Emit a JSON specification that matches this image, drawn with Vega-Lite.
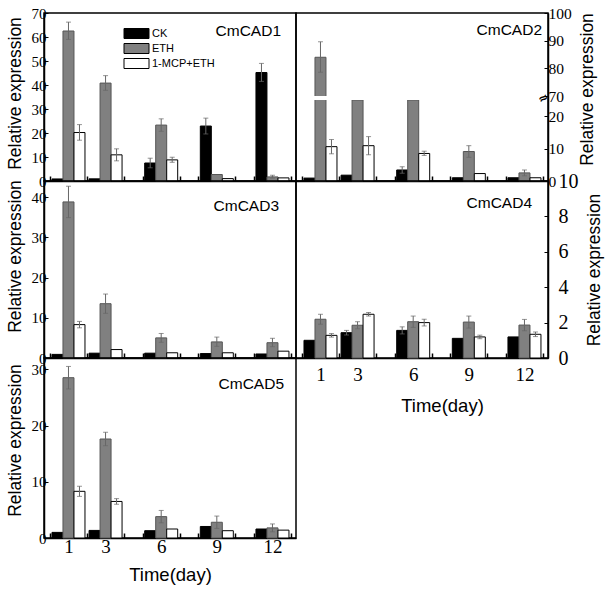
{
"$schema": "https://vega.github.io/schema/vega-lite/v6.json",
"background": "white",
"padding": {"left": 5, "top": 5, "right": 4, "bottom": 4},
"datasets": {"expr": [
{"gene":"CmCAD1","day":1,"trt":"CK","value":0.85},
{"gene":"CmCAD1","day":1,"trt":"ETH","value":62.5,"lo":59.0,"hi":66.2},
{"gene":"CmCAD1","day":1,"trt":"1-MCP+ETH","value":20.2,"lo":17.0,"hi":23.5},
{"gene":"CmCAD1","day":3,"trt":"CK","value":0.9},
{"gene":"CmCAD1","day":3,"trt":"ETH","value":40.8,"lo":37.8,"hi":43.9},
{"gene":"CmCAD1","day":3,"trt":"1-MCP+ETH","value":10.9,"lo":8.4,"hi":13.4},
{"gene":"CmCAD1","day":6,"trt":"CK","value":7.5,"lo":5.5,"hi":9.5},
{"gene":"CmCAD1","day":6,"trt":"ETH","value":23.3,"lo":20.7,"hi":25.9},
{"gene":"CmCAD1","day":6,"trt":"1-MCP+ETH","value":8.8,"lo":7.8,"hi":9.9},
{"gene":"CmCAD1","day":9,"trt":"CK","value":22.9,"lo":19.6,"hi":26.2},
{"gene":"CmCAD1","day":9,"trt":"ETH","value":2.7},
{"gene":"CmCAD1","day":9,"trt":"1-MCP+ETH","value":1.0},
{"gene":"CmCAD1","day":12,"trt":"CK","value":45.2,"lo":41.5,"hi":49.0},
{"gene":"CmCAD1","day":12,"trt":"ETH","value":1.7,"lo":1.2,"hi":2.4},
{"gene":"CmCAD1","day":12,"trt":"1-MCP+ETH","value":1.3},
{"gene":"CmCAD2","day":1,"trt":"CK","value":0.9},
{"gene":"CmCAD2","day":1,"trt":"ETH","value":84.0,"lo":78.6,"hi":89.6},
{"gene":"CmCAD2","day":1,"trt":"1-MCP+ETH","value":10.6,"lo":8.4,"hi":12.8},
{"gene":"CmCAD2","day":3,"trt":"CK","value":1.8},
{"gene":"CmCAD2","day":3,"trt":"ETH","value":25.0},
{"gene":"CmCAD2","day":3,"trt":"1-MCP+ETH","value":10.9,"lo":8.1,"hi":13.7},
{"gene":"CmCAD2","day":6,"trt":"CK","value":3.4,"lo":2.4,"hi":4.4},
{"gene":"CmCAD2","day":6,"trt":"ETH","value":25.0},
{"gene":"CmCAD2","day":6,"trt":"1-MCP+ETH","value":8.5,"lo":7.9,"hi":9.2},
{"gene":"CmCAD2","day":9,"trt":"CK","value":1.0},
{"gene":"CmCAD2","day":9,"trt":"ETH","value":9.1,"lo":7.3,"hi":10.9},
{"gene":"CmCAD2","day":9,"trt":"1-MCP+ETH","value":2.3},
{"gene":"CmCAD2","day":12,"trt":"CK","value":1.0},
{"gene":"CmCAD2","day":12,"trt":"ETH","value":2.5,"lo":1.6,"hi":3.4},
{"gene":"CmCAD2","day":12,"trt":"1-MCP+ETH","value":1.0},
{"gene":"CmCAD3","day":1,"trt":"CK","value":0.9},
{"gene":"CmCAD3","day":1,"trt":"ETH","value":38.8,"lo":34.9,"hi":42.7},
{"gene":"CmCAD3","day":1,"trt":"1-MCP+ETH","value":8.3,"lo":7.5,"hi":9.1},
{"gene":"CmCAD3","day":3,"trt":"CK","value":1.2},
{"gene":"CmCAD3","day":3,"trt":"ETH","value":13.5,"lo":11.1,"hi":15.9},
{"gene":"CmCAD3","day":3,"trt":"1-MCP+ETH","value":2.1},
{"gene":"CmCAD3","day":6,"trt":"CK","value":1.2},
{"gene":"CmCAD3","day":6,"trt":"ETH","value":5.0,"lo":3.9,"hi":6.1},
{"gene":"CmCAD3","day":6,"trt":"1-MCP+ETH","value":1.3},
{"gene":"CmCAD3","day":9,"trt":"CK","value":1.1},
{"gene":"CmCAD3","day":9,"trt":"ETH","value":4.0,"lo":2.9,"hi":5.2},
{"gene":"CmCAD3","day":9,"trt":"1-MCP+ETH","value":1.3},
{"gene":"CmCAD3","day":12,"trt":"CK","value":1.0},
{"gene":"CmCAD3","day":12,"trt":"ETH","value":3.8,"lo":2.8,"hi":4.9},
{"gene":"CmCAD3","day":12,"trt":"1-MCP+ETH","value":1.7},
{"gene":"CmCAD4","day":1,"trt":"CK","value":1.0},
{"gene":"CmCAD4","day":1,"trt":"ETH","value":2.19,"lo":1.91,"hi":2.47},
{"gene":"CmCAD4","day":1,"trt":"1-MCP+ETH","value":1.28,"lo":1.18,"hi":1.38},
{"gene":"CmCAD4","day":3,"trt":"CK","value":1.43,"lo":1.3,"hi":1.56},
{"gene":"CmCAD4","day":3,"trt":"ETH","value":1.85,"lo":1.65,"hi":2.05},
{"gene":"CmCAD4","day":3,"trt":"1-MCP+ETH","value":2.47,"lo":2.37,"hi":2.57},
{"gene":"CmCAD4","day":6,"trt":"CK","value":1.56,"lo":1.36,"hi":1.76},
{"gene":"CmCAD4","day":6,"trt":"ETH","value":2.05,"lo":1.73,"hi":2.37},
{"gene":"CmCAD4","day":6,"trt":"1-MCP+ETH","value":2.0,"lo":1.81,"hi":2.19},
{"gene":"CmCAD4","day":9,"trt":"CK","value":1.11},
{"gene":"CmCAD4","day":9,"trt":"ETH","value":2.03,"lo":1.69,"hi":2.37},
{"gene":"CmCAD4","day":9,"trt":"1-MCP+ETH","value":1.19,"lo":1.09,"hi":1.29},
{"gene":"CmCAD4","day":12,"trt":"CK","value":1.19},
{"gene":"CmCAD4","day":12,"trt":"ETH","value":1.86,"lo":1.54,"hi":2.18},
{"gene":"CmCAD4","day":12,"trt":"1-MCP+ETH","value":1.34,"lo":1.21,"hi":1.47},
{"gene":"CmCAD5","day":1,"trt":"CK","value":1.0},
{"gene":"CmCAD5","day":1,"trt":"ETH","value":28.5,"lo":26.5,"hi":30.5},
{"gene":"CmCAD5","day":1,"trt":"1-MCP+ETH","value":8.3,"lo":7.4,"hi":9.2},
{"gene":"CmCAD5","day":3,"trt":"CK","value":1.35},
{"gene":"CmCAD5","day":3,"trt":"ETH","value":17.6,"lo":16.4,"hi":18.8},
{"gene":"CmCAD5","day":3,"trt":"1-MCP+ETH","value":6.5,"lo":6.0,"hi":7.0},
{"gene":"CmCAD5","day":6,"trt":"CK","value":1.3},
{"gene":"CmCAD5","day":6,"trt":"ETH","value":3.8,"lo":2.7,"hi":4.9},
{"gene":"CmCAD5","day":6,"trt":"1-MCP+ETH","value":1.6},
{"gene":"CmCAD5","day":9,"trt":"CK","value":2.05},
{"gene":"CmCAD5","day":9,"trt":"ETH","value":2.8,"lo":1.7,"hi":3.9},
{"gene":"CmCAD5","day":9,"trt":"1-MCP+ETH","value":1.3},
{"gene":"CmCAD5","day":12,"trt":"CK","value":1.6},
{"gene":"CmCAD5","day":12,"trt":"ETH","value":1.8,"lo":1.1,"hi":2.5},
{"gene":"CmCAD5","day":12,"trt":"1-MCP+ETH","value":1.4}
]},
"columns": 2,
"spacing": 0,
"bounds": "flush",
"concat": [
{
 "width": 252, "height": 168,
 "title": {"text":"CmCAD1","anchor":"end","frame":"group","orient":"top","offset":-45,"dx":-15,"baseline":"alphabetic","font":"Liberation Sans","fontSize":15.5,"fontWeight":"normal","color":"black"},
 "data": {"name":"expr"},
 "transform":[{"filter":"datum.gene === 'CmCAD1'"}],
 "encoding": {
  "x": {"field":"day","type":"quantitative","scale":{"domain":[-0.05,13],"nice":false,"zero":false},"axis":{"values":[0,1,2,3,4,5,6,7,8,9,10,11,12,13],"labels":false,"title":null,"tickSize":-5,"tickWidth":1.5}},
  "y": {"field":"value","type":"quantitative","scale":{"domain":[0,70],"nice":false},"axis":{"values":[0,10,20,30,40,50,60,70],"title":"Relative expression","tickSize":-4,"labelPadding":2,"titlePadding":7,"titleY":80}}
 },
 "layer": [
  {"transform":[{"filter":"datum.trt === 'CK'"}],"mark":{"type":"bar","width":11,"xOffset":-11,"stroke":"black","strokeWidth":1},"encoding":{"fill":{"field":"trt","type":"nominal","scale":{"domain":["CK","ETH","1-MCP+ETH"],"range":["#000000","#808080","#ffffff"]},"legend":{"orient":"none","legendX":87,"legendY":15,"title":null,"symbolType":"M-2.5,-1H2.5V1H-2.5Z","symbolSize":100,"symbolStrokeColor":"black","symbolStrokeWidth":1,"labelFont":"Liberation Sans","labelFontSize":11,"labelColor":"black","rowPadding":0,"gridAlign":"none","labelOffset":10,"padding":0}}}},
  {"transform":[{"filter":"datum.trt === 'ETH'"}],"mark":{"type":"bar","width":11,"xOffset":0,"stroke":"#555555","strokeWidth":1},"encoding":{"fill":{"field":"trt","type":"nominal","scale":{"domain":["CK","ETH","1-MCP+ETH"],"range":["#000000","#808080","#ffffff"]},"legend":{"orient":"none","legendX":87,"legendY":15,"title":null,"symbolType":"M-2.5,-1H2.5V1H-2.5Z","symbolSize":100,"symbolStrokeColor":"black","symbolStrokeWidth":1,"labelFont":"Liberation Sans","labelFontSize":11,"labelColor":"black","rowPadding":0,"gridAlign":"none","labelOffset":10,"padding":0}}}},
  {"transform":[{"filter":"datum.trt === '1-MCP+ETH'"}],"mark":{"type":"bar","width":11,"xOffset":11,"stroke":"black","strokeWidth":1},"encoding":{"fill":{"field":"trt","type":"nominal","scale":{"domain":["CK","ETH","1-MCP+ETH"],"range":["#000000","#808080","#ffffff"]},"legend":{"orient":"none","legendX":87,"legendY":15,"title":null,"symbolType":"M-2.5,-1H2.5V1H-2.5Z","symbolSize":100,"symbolStrokeColor":"black","symbolStrokeWidth":1,"labelFont":"Liberation Sans","labelFontSize":11,"labelColor":"black","rowPadding":0,"gridAlign":"none","labelOffset":10,"padding":0}}}},
  {"transform":[{"filter":"datum.trt === 'CK' && isValid(datum.lo)"}],"mark":{"type":"rule","xOffset":-11,"color":"#666666","strokeWidth":1},"encoding":{"y":{"field":"lo","type":"quantitative"},"y2":{"field":"hi"}}},
  {"transform":[{"filter":"datum.trt === 'ETH' && isValid(datum.lo)"}],"mark":{"type":"rule","xOffset":0,"color":"#666666","strokeWidth":1},"encoding":{"y":{"field":"lo","type":"quantitative"},"y2":{"field":"hi"}}},
  {"transform":[{"filter":"datum.trt === '1-MCP+ETH' && isValid(datum.lo)"}],"mark":{"type":"rule","xOffset":11,"color":"#666666","strokeWidth":1},"encoding":{"y":{"field":"lo","type":"quantitative"},"y2":{"field":"hi"}}},
  {"transform":[{"filter":"datum.trt === 'CK' && isValid(datum.lo)"}],"mark":{"type":"tick","orient":"horizontal","xOffset":-11,"size":5,"thickness":1,"color":"#666666"},"encoding":{"y":{"field":"hi","type":"quantitative"}}},
  {"transform":[{"filter":"datum.trt === 'ETH' && isValid(datum.lo)"}],"mark":{"type":"tick","orient":"horizontal","xOffset":0,"size":5,"thickness":1,"color":"#666666"},"encoding":{"y":{"field":"hi","type":"quantitative"}}},
  {"transform":[{"filter":"datum.trt === '1-MCP+ETH' && isValid(datum.lo)"}],"mark":{"type":"tick","orient":"horizontal","xOffset":11,"size":5,"thickness":1,"color":"#666666"},"encoding":{"y":{"field":"hi","type":"quantitative"}}},
  {"transform":[{"filter":"datum.trt === 'CK' && isValid(datum.lo)"}],"mark":{"type":"tick","orient":"horizontal","xOffset":-11,"size":5,"thickness":1,"color":"#666666"},"encoding":{"y":{"field":"lo","type":"quantitative"}}},
  {"transform":[{"filter":"datum.trt === 'ETH' && isValid(datum.lo)"}],"mark":{"type":"tick","orient":"horizontal","xOffset":0,"size":5,"thickness":1,"color":"#666666"},"encoding":{"y":{"field":"lo","type":"quantitative"}}},
  {"transform":[{"filter":"datum.trt === '1-MCP+ETH' && isValid(datum.lo)"}],"mark":{"type":"tick","orient":"horizontal","xOffset":11,"size":5,"thickness":1,"color":"#666666"},"encoding":{"y":{"field":"lo","type":"quantitative"}}}
 ]
},
{
 "width": 252, "height": 168,
 "title": {"text":"CmCAD2","anchor":"end","frame":"group","orient":"top","offset":-44,"dx":-6,"baseline":"alphabetic","font":"Liberation Sans","fontSize":15.5,"fontWeight":"normal","color":"black"},
 "data": {"name":"expr"},
 "transform":[{"filter":"datum.gene === 'CmCAD2'"}],
 "encoding": {
  "x": {"field":"day","type":"quantitative","scale":{"domain":[-0.05,13],"nice":false,"zero":false},"axis":{"values":[0,1,2,3,4,5,6,7,8,9,10,11,12,13],"labels":false,"title":null,"tickSize":-5,"tickWidth":1.5}},
  "y": {"field":"value","type":"quantitative","scale":{"domain":[0,25,70,100],"range":[168,87,83,0],"nice":false,"zero":false},"axis":{"orient":"right","values":[0,10,20,70,80,90,100],"title":"Relative expression","tickSize":-4,"labelPadding":4,"labelFontSize":15.5,"titlePadding":7,"titleY":76,"titleAngle":270,"titleBaseline":"top"}}
 },
 "layer": [
  {"transform":[{"filter":"datum.trt === 'CK'"}],"mark":{"type":"bar","width":11,"xOffset":-11,"stroke":"black","strokeWidth":1},"encoding":{"fill":{"field":"trt","type":"nominal","scale":{"domain":["CK","ETH","1-MCP+ETH"],"range":["#000000","#808080","#ffffff"]},"legend":null}}},
  {"transform":[{"filter":"datum.trt === 'ETH'"}],"mark":{"type":"bar","width":11,"xOffset":0,"stroke":"#555555","strokeWidth":1},"encoding":{"fill":{"field":"trt","type":"nominal","scale":{"domain":["CK","ETH","1-MCP+ETH"],"range":["#000000","#808080","#ffffff"]},"legend":null}}},
  {"transform":[{"filter":"datum.trt === '1-MCP+ETH'"}],"mark":{"type":"bar","width":11,"xOffset":11,"stroke":"black","strokeWidth":1},"encoding":{"fill":{"field":"trt","type":"nominal","scale":{"domain":["CK","ETH","1-MCP+ETH"],"range":["#000000","#808080","#ffffff"]},"legend":null}}},
  {"transform":[{"filter":"datum.trt === 'CK' && isValid(datum.lo)"}],"mark":{"type":"rule","xOffset":-11,"color":"#666666","strokeWidth":1},"encoding":{"y":{"field":"lo","type":"quantitative"},"y2":{"field":"hi"}}},
  {"transform":[{"filter":"datum.trt === 'ETH' && isValid(datum.lo)"}],"mark":{"type":"rule","xOffset":0,"color":"#666666","strokeWidth":1},"encoding":{"y":{"field":"lo","type":"quantitative"},"y2":{"field":"hi"}}},
  {"transform":[{"filter":"datum.trt === '1-MCP+ETH' && isValid(datum.lo)"}],"mark":{"type":"rule","xOffset":11,"color":"#666666","strokeWidth":1},"encoding":{"y":{"field":"lo","type":"quantitative"},"y2":{"field":"hi"}}},
  {"transform":[{"filter":"datum.trt === 'CK' && isValid(datum.lo)"}],"mark":{"type":"tick","orient":"horizontal","xOffset":-11,"size":5,"thickness":1,"color":"#666666"},"encoding":{"y":{"field":"hi","type":"quantitative"}}},
  {"transform":[{"filter":"datum.trt === 'ETH' && isValid(datum.lo)"}],"mark":{"type":"tick","orient":"horizontal","xOffset":0,"size":5,"thickness":1,"color":"#666666"},"encoding":{"y":{"field":"hi","type":"quantitative"}}},
  {"transform":[{"filter":"datum.trt === '1-MCP+ETH' && isValid(datum.lo)"}],"mark":{"type":"tick","orient":"horizontal","xOffset":11,"size":5,"thickness":1,"color":"#666666"},"encoding":{"y":{"field":"hi","type":"quantitative"}}},
  {"transform":[{"filter":"datum.trt === 'CK' && isValid(datum.lo)"}],"mark":{"type":"tick","orient":"horizontal","xOffset":-11,"size":5,"thickness":1,"color":"#666666"},"encoding":{"y":{"field":"lo","type":"quantitative"}}},
  {"transform":[{"filter":"datum.trt === 'ETH' && isValid(datum.lo)"}],"mark":{"type":"tick","orient":"horizontal","xOffset":0,"size":5,"thickness":1,"color":"#666666"},"encoding":{"y":{"field":"lo","type":"quantitative"}}},
  {"transform":[{"filter":"datum.trt === '1-MCP+ETH' && isValid(datum.lo)"}],"mark":{"type":"tick","orient":"horizontal","xOffset":11,"size":5,"thickness":1,"color":"#666666"},"encoding":{"y":{"field":"lo","type":"quantitative"}}},
  {"transform":[{"filter":"datum.day === 1 && datum.trt === 'ETH'"}],"mark":{"type":"rect","color":"white"},"encoding":{"x":{"datum":0.1,"type":"quantitative"},"x2":{"datum":12.9},"y":{"datum":25,"type":"quantitative"},"y2":{"datum":70}}},
  {"transform":[{"filter":"datum.day === 1 && datum.trt === 'ETH'"}],"mark":{"type":"text","fontSize":12,"fontWeight":"bold","color":"black","font":"DejaVu Sans","align":"center","baseline":"middle","angle":-30},"encoding":{"x":{"datum":13,"type":"quantitative"},"y":{"datum":47,"type":"quantitative"},"text":{"value":"≈"}}}
 ]
},
{
 "width": 252, "height": 177,
 "title": {"text":"CmCAD3","anchor":"end","frame":"group","orient":"top","offset":-47,"dx":-17,"baseline":"alphabetic","font":"Liberation Sans","fontSize":15.5,"fontWeight":"normal","color":"black"},
 "data": {"name":"expr"},
 "transform":[{"filter":"datum.gene === 'CmCAD3'"}],
 "encoding": {
  "x": {"field":"day","type":"quantitative","scale":{"domain":[-0.05,13],"nice":false,"zero":false},"axis":{"values":[0,1,2,3,4,5,6,7,8,9,10,11,12,13],"labels":false,"title":null,"tickSize":-5,"tickWidth":1.5}},
  "y": {"field":"value","type":"quantitative","scale":{"domain":[0,44],"nice":false},"axis":{"values":[0,10,20,30,40],"title":"Relative expression","tickSize":-4,"labelPadding":2,"titlePadding":7,"titleY":75}}
 },
 "layer": [
  {"transform":[{"filter":"datum.trt === 'CK'"}],"mark":{"type":"bar","width":11,"xOffset":-11,"stroke":"black","strokeWidth":1},"encoding":{"fill":{"field":"trt","type":"nominal","scale":{"domain":["CK","ETH","1-MCP+ETH"],"range":["#000000","#808080","#ffffff"]},"legend":null}}},
  {"transform":[{"filter":"datum.trt === 'ETH'"}],"mark":{"type":"bar","width":11,"xOffset":0,"stroke":"#555555","strokeWidth":1},"encoding":{"fill":{"field":"trt","type":"nominal","scale":{"domain":["CK","ETH","1-MCP+ETH"],"range":["#000000","#808080","#ffffff"]},"legend":null}}},
  {"transform":[{"filter":"datum.trt === '1-MCP+ETH'"}],"mark":{"type":"bar","width":11,"xOffset":11,"stroke":"black","strokeWidth":1},"encoding":{"fill":{"field":"trt","type":"nominal","scale":{"domain":["CK","ETH","1-MCP+ETH"],"range":["#000000","#808080","#ffffff"]},"legend":null}}},
  {"transform":[{"filter":"datum.trt === 'CK' && isValid(datum.lo)"}],"mark":{"type":"rule","xOffset":-11,"color":"#666666","strokeWidth":1},"encoding":{"y":{"field":"lo","type":"quantitative"},"y2":{"field":"hi"}}},
  {"transform":[{"filter":"datum.trt === 'ETH' && isValid(datum.lo)"}],"mark":{"type":"rule","xOffset":0,"color":"#666666","strokeWidth":1},"encoding":{"y":{"field":"lo","type":"quantitative"},"y2":{"field":"hi"}}},
  {"transform":[{"filter":"datum.trt === '1-MCP+ETH' && isValid(datum.lo)"}],"mark":{"type":"rule","xOffset":11,"color":"#666666","strokeWidth":1},"encoding":{"y":{"field":"lo","type":"quantitative"},"y2":{"field":"hi"}}},
  {"transform":[{"filter":"datum.trt === 'CK' && isValid(datum.lo)"}],"mark":{"type":"tick","orient":"horizontal","xOffset":-11,"size":5,"thickness":1,"color":"#666666"},"encoding":{"y":{"field":"hi","type":"quantitative"}}},
  {"transform":[{"filter":"datum.trt === 'ETH' && isValid(datum.lo)"}],"mark":{"type":"tick","orient":"horizontal","xOffset":0,"size":5,"thickness":1,"color":"#666666"},"encoding":{"y":{"field":"hi","type":"quantitative"}}},
  {"transform":[{"filter":"datum.trt === '1-MCP+ETH' && isValid(datum.lo)"}],"mark":{"type":"tick","orient":"horizontal","xOffset":11,"size":5,"thickness":1,"color":"#666666"},"encoding":{"y":{"field":"hi","type":"quantitative"}}},
  {"transform":[{"filter":"datum.trt === 'CK' && isValid(datum.lo)"}],"mark":{"type":"tick","orient":"horizontal","xOffset":-11,"size":5,"thickness":1,"color":"#666666"},"encoding":{"y":{"field":"lo","type":"quantitative"}}},
  {"transform":[{"filter":"datum.trt === 'ETH' && isValid(datum.lo)"}],"mark":{"type":"tick","orient":"horizontal","xOffset":0,"size":5,"thickness":1,"color":"#666666"},"encoding":{"y":{"field":"lo","type":"quantitative"}}},
  {"transform":[{"filter":"datum.trt === '1-MCP+ETH' && isValid(datum.lo)"}],"mark":{"type":"tick","orient":"horizontal","xOffset":11,"size":5,"thickness":1,"color":"#666666"},"encoding":{"y":{"field":"lo","type":"quantitative"}}}
 ]
},
{
 "width": 252, "height": 177,
 "title": {"text":"CmCAD4","anchor":"end","frame":"group","orient":"top","offset":-52,"dx":-16,"baseline":"alphabetic","font":"Liberation Sans","fontSize":15.5,"fontWeight":"normal","color":"black"},
 "data": {"name":"expr"},
 "transform":[{"filter":"datum.gene === 'CmCAD4'"}],
 "encoding": {
  "x": {"field":"day","type":"quantitative","scale":{"domain":[-0.05,13],"nice":false,"zero":false},"axis":{"values":[0,1,2,3,4,5,6,7,8,9,10,11,12,13],"labels":true,"labelExpr":"indexof([1,3,6,9,12], datum.value) >= 0 ? datum.label : ''","labelFontSize":19,"labelPadding":12,"title":"Time(day)","titleFont":"Liberation Sans","titleFontSize":18.5,"titlePadding":12,"titleX":146,"tickSize":-5,"tickWidth":1.5}},
  "y": {"field":"value","type":"quantitative","scale":{"domain":[0,10],"nice":false},"axis":{"orient":"right","values":[0,2,4,6,8,10],"title":"Relative expression","tickSize":-4,"labelPadding":14,"labelFontSize":20,"titlePadding":7,"titleAngle":270,"titleBaseline":"top"}}
 },
 "layer": [
  {"transform":[{"filter":"datum.trt === 'CK'"}],"mark":{"type":"bar","width":11,"xOffset":-11,"stroke":"black","strokeWidth":1},"encoding":{"fill":{"field":"trt","type":"nominal","scale":{"domain":["CK","ETH","1-MCP+ETH"],"range":["#000000","#808080","#ffffff"]},"legend":null}}},
  {"transform":[{"filter":"datum.trt === 'ETH'"}],"mark":{"type":"bar","width":11,"xOffset":0,"stroke":"#555555","strokeWidth":1},"encoding":{"fill":{"field":"trt","type":"nominal","scale":{"domain":["CK","ETH","1-MCP+ETH"],"range":["#000000","#808080","#ffffff"]},"legend":null}}},
  {"transform":[{"filter":"datum.trt === '1-MCP+ETH'"}],"mark":{"type":"bar","width":11,"xOffset":11,"stroke":"black","strokeWidth":1},"encoding":{"fill":{"field":"trt","type":"nominal","scale":{"domain":["CK","ETH","1-MCP+ETH"],"range":["#000000","#808080","#ffffff"]},"legend":null}}},
  {"transform":[{"filter":"datum.trt === 'CK' && isValid(datum.lo)"}],"mark":{"type":"rule","xOffset":-11,"color":"#666666","strokeWidth":1},"encoding":{"y":{"field":"lo","type":"quantitative"},"y2":{"field":"hi"}}},
  {"transform":[{"filter":"datum.trt === 'ETH' && isValid(datum.lo)"}],"mark":{"type":"rule","xOffset":0,"color":"#666666","strokeWidth":1},"encoding":{"y":{"field":"lo","type":"quantitative"},"y2":{"field":"hi"}}},
  {"transform":[{"filter":"datum.trt === '1-MCP+ETH' && isValid(datum.lo)"}],"mark":{"type":"rule","xOffset":11,"color":"#666666","strokeWidth":1},"encoding":{"y":{"field":"lo","type":"quantitative"},"y2":{"field":"hi"}}},
  {"transform":[{"filter":"datum.trt === 'CK' && isValid(datum.lo)"}],"mark":{"type":"tick","orient":"horizontal","xOffset":-11,"size":5,"thickness":1,"color":"#666666"},"encoding":{"y":{"field":"hi","type":"quantitative"}}},
  {"transform":[{"filter":"datum.trt === 'ETH' && isValid(datum.lo)"}],"mark":{"type":"tick","orient":"horizontal","xOffset":0,"size":5,"thickness":1,"color":"#666666"},"encoding":{"y":{"field":"hi","type":"quantitative"}}},
  {"transform":[{"filter":"datum.trt === '1-MCP+ETH' && isValid(datum.lo)"}],"mark":{"type":"tick","orient":"horizontal","xOffset":11,"size":5,"thickness":1,"color":"#666666"},"encoding":{"y":{"field":"hi","type":"quantitative"}}},
  {"transform":[{"filter":"datum.trt === 'CK' && isValid(datum.lo)"}],"mark":{"type":"tick","orient":"horizontal","xOffset":-11,"size":5,"thickness":1,"color":"#666666"},"encoding":{"y":{"field":"lo","type":"quantitative"}}},
  {"transform":[{"filter":"datum.trt === 'ETH' && isValid(datum.lo)"}],"mark":{"type":"tick","orient":"horizontal","xOffset":0,"size":5,"thickness":1,"color":"#666666"},"encoding":{"y":{"field":"lo","type":"quantitative"}}},
  {"transform":[{"filter":"datum.trt === '1-MCP+ETH' && isValid(datum.lo)"}],"mark":{"type":"tick","orient":"horizontal","xOffset":11,"size":5,"thickness":1,"color":"#666666"},"encoding":{"y":{"field":"lo","type":"quantitative"}}}
 ]
},
{
 "width": 252, "height": 180,
 "title": {"text":"CmCAD5","anchor":"end","frame":"group","orient":"top","offset":-46,"dx":-12,"baseline":"alphabetic","font":"Liberation Sans","fontSize":15.5,"fontWeight":"normal","color":"black"},
 "data": {"name":"expr"},
 "transform":[{"filter":"datum.gene === 'CmCAD5'"}],
 "encoding": {
  "x": {"field":"day","type":"quantitative","scale":{"domain":[-0.05,13],"nice":false,"zero":false},"axis":{"values":[0,1,2,3,4,5,6,7,8,9,10,11,12,13],"labels":true,"labelExpr":"indexof([1,3,6,9,12], datum.value) >= 0 ? datum.label : ''","labelFontSize":19,"labelPadding":4,"title":"Time(day)","titleFont":"Liberation Sans","titleFontSize":18.5,"titlePadding":9,"tickSize":-5,"tickWidth":1.5}},
  "y": {"field":"value","type":"quantitative","scale":{"domain":[0,32],"nice":false},"axis":{"values":[0,10,20,30],"title":"Relative expression","tickSize":-4,"labelPadding":2,"titlePadding":7,"titleY":82}}
 },
 "layer": [
  {"transform":[{"filter":"datum.trt === 'CK'"}],"mark":{"type":"bar","width":11,"xOffset":-11,"stroke":"black","strokeWidth":1},"encoding":{"fill":{"field":"trt","type":"nominal","scale":{"domain":["CK","ETH","1-MCP+ETH"],"range":["#000000","#808080","#ffffff"]},"legend":null}}},
  {"transform":[{"filter":"datum.trt === 'ETH'"}],"mark":{"type":"bar","width":11,"xOffset":0,"stroke":"#555555","strokeWidth":1},"encoding":{"fill":{"field":"trt","type":"nominal","scale":{"domain":["CK","ETH","1-MCP+ETH"],"range":["#000000","#808080","#ffffff"]},"legend":null}}},
  {"transform":[{"filter":"datum.trt === '1-MCP+ETH'"}],"mark":{"type":"bar","width":11,"xOffset":11,"stroke":"black","strokeWidth":1},"encoding":{"fill":{"field":"trt","type":"nominal","scale":{"domain":["CK","ETH","1-MCP+ETH"],"range":["#000000","#808080","#ffffff"]},"legend":null}}},
  {"transform":[{"filter":"datum.trt === 'CK' && isValid(datum.lo)"}],"mark":{"type":"rule","xOffset":-11,"color":"#666666","strokeWidth":1},"encoding":{"y":{"field":"lo","type":"quantitative"},"y2":{"field":"hi"}}},
  {"transform":[{"filter":"datum.trt === 'ETH' && isValid(datum.lo)"}],"mark":{"type":"rule","xOffset":0,"color":"#666666","strokeWidth":1},"encoding":{"y":{"field":"lo","type":"quantitative"},"y2":{"field":"hi"}}},
  {"transform":[{"filter":"datum.trt === '1-MCP+ETH' && isValid(datum.lo)"}],"mark":{"type":"rule","xOffset":11,"color":"#666666","strokeWidth":1},"encoding":{"y":{"field":"lo","type":"quantitative"},"y2":{"field":"hi"}}},
  {"transform":[{"filter":"datum.trt === 'CK' && isValid(datum.lo)"}],"mark":{"type":"tick","orient":"horizontal","xOffset":-11,"size":5,"thickness":1,"color":"#666666"},"encoding":{"y":{"field":"hi","type":"quantitative"}}},
  {"transform":[{"filter":"datum.trt === 'ETH' && isValid(datum.lo)"}],"mark":{"type":"tick","orient":"horizontal","xOffset":0,"size":5,"thickness":1,"color":"#666666"},"encoding":{"y":{"field":"hi","type":"quantitative"}}},
  {"transform":[{"filter":"datum.trt === '1-MCP+ETH' && isValid(datum.lo)"}],"mark":{"type":"tick","orient":"horizontal","xOffset":11,"size":5,"thickness":1,"color":"#666666"},"encoding":{"y":{"field":"hi","type":"quantitative"}}},
  {"transform":[{"filter":"datum.trt === 'CK' && isValid(datum.lo)"}],"mark":{"type":"tick","orient":"horizontal","xOffset":-11,"size":5,"thickness":1,"color":"#666666"},"encoding":{"y":{"field":"lo","type":"quantitative"}}},
  {"transform":[{"filter":"datum.trt === 'ETH' && isValid(datum.lo)"}],"mark":{"type":"tick","orient":"horizontal","xOffset":0,"size":5,"thickness":1,"color":"#666666"},"encoding":{"y":{"field":"lo","type":"quantitative"}}},
  {"transform":[{"filter":"datum.trt === '1-MCP+ETH' && isValid(datum.lo)"}],"mark":{"type":"tick","orient":"horizontal","xOffset":11,"size":5,"thickness":1,"color":"#666666"},"encoding":{"y":{"field":"lo","type":"quantitative"}}}
 ]
}
],
"config": {
 "view": {"stroke":"black","strokeWidth":1.5},
 "axis": {"domainColor":"black","domainWidth":1.5,"tickColor":"black","tickWidth":1,"labelFont":"Liberation Serif","labelColor":"black","labelFontSize":15,"titleFont":"Liberation Sans","titleFontWeight":"normal","titleColor":"black","titleFontSize":17.5,"grid":false,"labelOverlap":false,"labelFlush":false}
}
}
